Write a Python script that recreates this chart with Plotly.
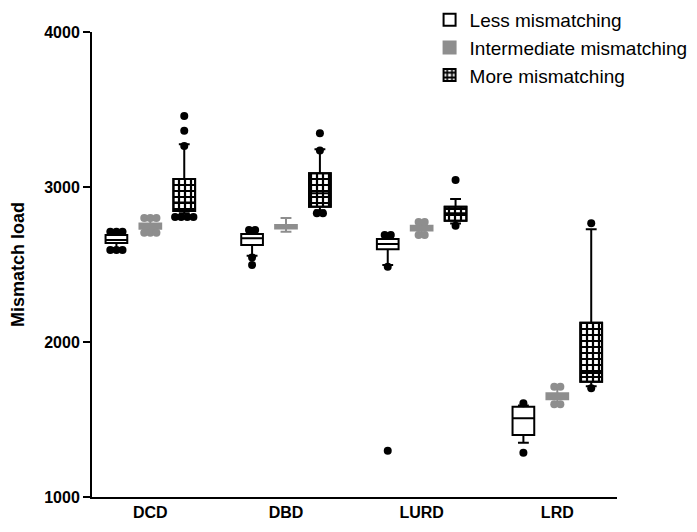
import plotly.graph_objects as go

categories = ["DCD", "DBD", "LURD", "LRD"]
series_names = ["Less mismatching", "Intermediate mismatching", "More mismatching"]

# Less mismatching
less_q1 = [2639, 2626, 2598, 1400]
less_med = [2658, 2669, 2632, 1508]
less_q3 = [2690, 2697, 2665, 1583]
less_lo = [2607, 2557, 2497, 1350]
less_hi = [2700, 2700, 2675, 1590]
less_out = [[2712, 2712, 2712, 2594, 2594, 2594], [2723, 2723, 2545, 2497], [2690, 2690, 2485, 1299], [1605, 1286]]

# Intermediate mismatching
int_q1 = [2730, 2732, 2720, 1630]
int_med = [2748, 2745, 2735, 1650]
int_q3 = [2765, 2755, 2750, 1670]
int_lo = [2718, 2712, 2705, 1610]
int_hi = [2785, 2800, 2765, 1700]
int_out = [[2800, 2800, 2800, 2705, 2705, 2705], [], [2775, 2775, 2690, 2690], [1712, 1712, 1598, 1598]]

# More mismatching
more_q1 = [2845, 2873, 2783, 1744]
more_med = [2900, 2960, 2830, 1800]
more_q3 = [3052, 3089, 2873, 2125]
more_lo = [2830, 2850, 2765, 1715]
more_hi = [3276, 3243, 2923, 2727]
more_out = [[3458, 3363, 3265, 2807, 2807, 2807, 2807], [3347, 3235, 2830, 2830], [3045, 2750], [2766, 1701]]

FONT = "Liberation Sans, Arial, sans-serif"
idx = list(range(len(categories)))
OFF = 0.25
BW = 0.16
GRAY = "#8e8e8e"


def pos(off):
    return [i + off for i in idx]


def spread(outs, off):
    xs, ys = [], []
    for i, vals in enumerate(outs):
        groups = {}
        for v in vals:
            groups.setdefault(v, 0)
            groups[v] += 1
        for v, n in groups.items():
            for j in range(n):
                xs.append(i + off + (j - (n - 1) / 2) * 0.045)
                ys.append(v)
    return xs, ys


fig = go.Figure()

# checkered fill for "More" boxes (bar under the box outline)
fig.add_trace(go.Bar(
    x=pos(OFF), y=[b - a for a, b in zip(more_q1, more_q3)], base=more_q1,
    width=BW, name=series_names[2], legendrank=3,
    marker=dict(color="white", line=dict(color="black", width=2),
                pattern=dict(shape="+", fgcolor="black", bgcolor="white",
                             size=6, solidity=0.6, fillmode="replace")),
    hoverinfo="skip",
))

box_specs = [
    (-OFF, less_q1, less_med, less_q3, less_lo, less_hi, "white", "black", series_names[0], True, 1),
    (0, int_q1, int_med, int_q3, int_lo, int_hi, GRAY, GRAY, series_names[1], True, 2),
    (OFF, more_q1, more_med, more_q3, more_lo, more_hi, "rgba(0,0,0,0)", "black", series_names[2], False, 3),
]
for off, q1, med, q3, lo, hi, fill, lc, nm, sl, rk in box_specs:
    fig.add_trace(go.Box(
        x=pos(off), q1=q1, median=med, q3=q3, lowerfence=lo, upperfence=hi,
        width=BW, whiskerwidth=0.5, fillcolor=fill,
        line=dict(color=lc, width=2), boxpoints=False,
        name=nm, showlegend=sl, legendrank=rk,
    ))

for off, outs, col in [(-OFF, less_out, "black"), (0, int_out, GRAY), (OFF, more_out, "black")]:
    xs, ys = spread(outs, off)
    fig.add_trace(go.Scatter(
        x=xs, y=ys, mode="markers", showlegend=False,
        marker=dict(color=col, size=8, line=dict(width=0)),
    ))

fig.update_layout(
    width=697, height=532,
    margin=dict(l=84, r=88, t=24, b=43, autoexpand=False),
    plot_bgcolor="white", paper_bgcolor="white",
    barmode="overlay",
    font=dict(family=FONT, color="black"),
    legend=dict(x=0.643, y=1.067,
                xanchor="left", yanchor="top",
                font=dict(family=FONT, size=19, color="black"),
                bgcolor="rgba(0,0,0,0)", traceorder="normal"),
    xaxis=dict(range=[-0.43, 3.44], tickvals=idx, ticktext=categories,
               showline=True, linecolor="black", linewidth=2, ticks="",
               showgrid=False, zeroline=False,
               tickfont=dict(family=FONT, size=16, color="black", weight="bold")),
    yaxis=dict(range=[1000, 4000], tickvals=[1000, 2000, 3000, 4000],
               showline=True, linecolor="black", linewidth=2,
               ticks="outside", ticklen=7, tickwidth=2, tickcolor="black",
               showgrid=False, zeroline=False,
               tickfont=dict(family=FONT, size=16, color="black", weight="bold"),
               title=dict(text="Mismatch load", standoff=22,
                          font=dict(family=FONT, size=18, color="black", weight="bold"))),
)

fig.write_html("out.html")
